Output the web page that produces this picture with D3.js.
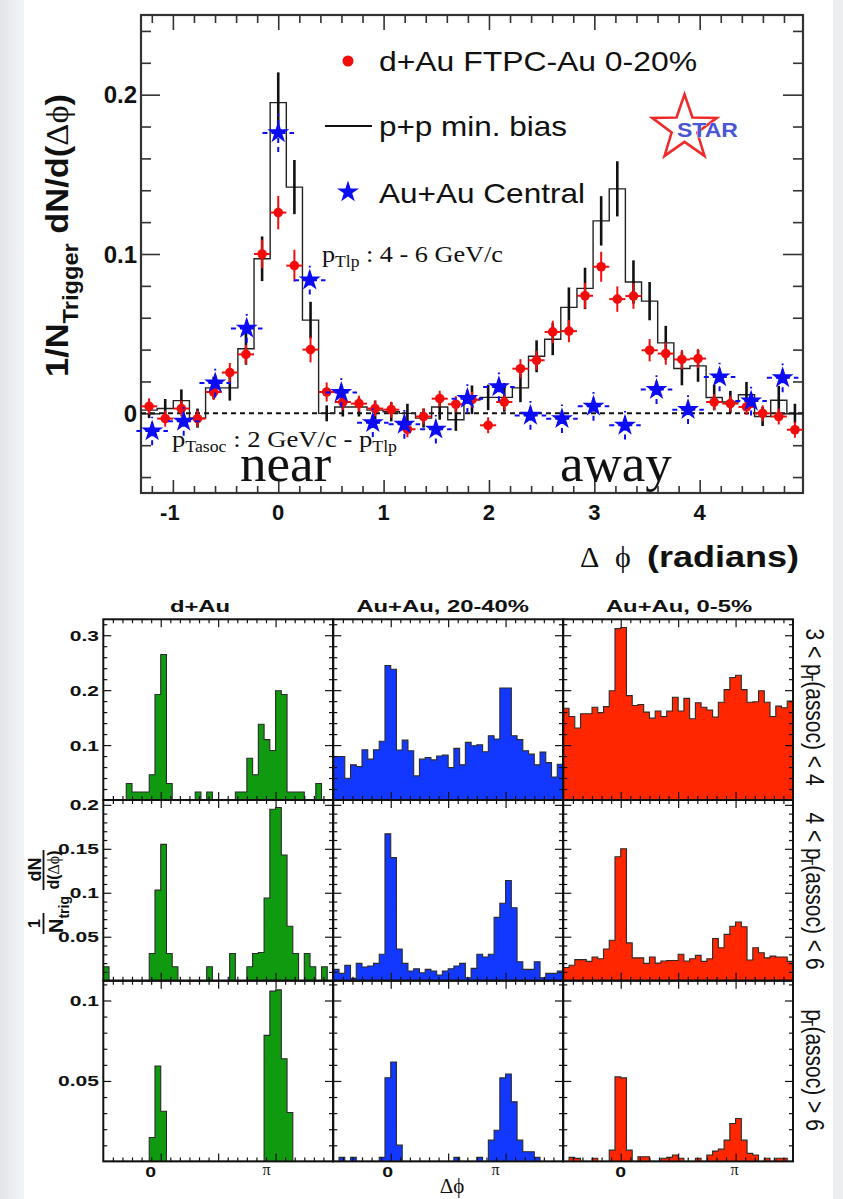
<!DOCTYPE html>
<html>
<head>
<meta charset="utf-8">
<script src="https://cdn.jsdelivr.net/npm/d3@7/dist/d3.min.js"></script>
<style>
  html, body { margin: 0; padding: 0; background: #fff; }
  svg { display: block; }
</style>
</head>
<body>
<svg id="chart" width="843" height="1199"></svg>
<script>
// ================= Upper figure: azimuthal correlation, pT(trig) 4-6 GeV/c =================
// p+p and d+Au: 41 bins over 2π, bin 8 centred on Δφ = 0
const ppYield = [0.002, 0.003, 0.008, -0.003, 0.016, 0.016, 0.0405, 0.097, 0.195, 0.142,
                 0.0585, 0.000, 0.004, 0.004, 0.002, 0.001, 0.000, -0.003, 0.004, -0.004,
                 0.0085, 0.010, 0.010, 0.016, 0.0358, 0.0465, 0.0665, 0.0784, 0.1208, 0.1409,
                 0.0824, 0.0704, 0.0442, 0.0281, 0.0298, 0.0099, 0.0071, 0.0117, -0.002, 0.0082,
                 0.000];
const ppErr = [0.005, 0.006, 0.007, 0.006, 0.007, 0.008, 0.010, 0.014, 0.019, 0.017,
               0.0115, 0.005, 0.006, 0.006, 0.006, 0.006, 0.006, 0.006, 0.008, 0.007,
               0.009, 0.008, 0.009, 0.009, 0.010, 0.010, 0.0125, 0.013, 0.0155, 0.0173,
               0.0136, 0.012, 0.0107, 0.0105, 0.010, 0.008, 0.007, 0.008, 0.006, 0.009,
               0.006];
const dAuYield = [0.0044, -0.0033, 0.003, -0.0033, 0.0134, 0.0256, 0.037, 0.100, 0.126, 0.0927,
                  0.040, 0.0134, 0.0071, 0.0061, 0.003, 0.0023, -0.010, -0.002, 0.0092, 0.0057,
                  0.0086, -0.0075, 0.0071, 0.028, 0.0333, 0.0511, 0.0516, 0.0738, 0.092, 0.0717,
                  0.0736, 0.0396, 0.0375, 0.0338, 0.0344, 0.0071, 0.0061, 0.004, 0.000, -0.002,
                  -0.0103];
const dAuErr = [0.005, 0.005, 0.005, 0.005, 0.005, 0.006, 0.006, 0.009, 0.0105, 0.010,
                0.008, 0.006, 0.005, 0.005, 0.005, 0.005, 0.005, 0.005, 0.005, 0.005,
                0.005, 0.005, 0.005, 0.006, 0.006, 0.007, 0.007, 0.008, 0.0094, 0.008,
                0.008, 0.007, 0.007, 0.006, 0.006, 0.005, 0.005, 0.005, 0.005, 0.005,
                0.005];
// Au+Au central: 21 bins over 2π, bin 4 centred on Δφ = 0
const auAuYield = [-0.0111, -0.005, 0.019, 0.0533, 0.176, 0.0836, 0.013, -0.0059, -0.0069, -0.010,
                   0.0092, 0.0166, -0.0013, -0.0034, 0.0044, -0.0075, 0.0149, 0.0023, 0.0228, 0.0077,
                   0.0223];
const auAuErr = [0.009, 0.009, 0.009, 0.009, 0.012, 0.009, 0.009, 0.009, 0.009, 0.009,
                 0.009, 0.009, 0.009, 0.009, 0.009, 0.009, 0.009, 0.009, 0.009, 0.009,
                 0.009];

const topXTicks = [-1, 0, 1, 2, 3, 4];
const topYTicks = [0, 0.1, 0.2];
const legendLabels = ["d+Au FTPC-Au 0-20%", "p+p min. bias", "Au+Au Central"];

// ================= Lower figure: 3 x 3 grid of Δφ distributions =================
const columnTitles = ["d+Au", "Au+Au, 20-40%", "Au+Au, 0-5%"];
const rowTitles = [
  { pre: "3 < p", sub: "T", post: "(assoc) < 4" },
  { pre: "4 < p", sub: "T", post: "(assoc) < 6" },
  { pre: "p", sub: "T", post: "(assoc) > 6" }
];
const gridYTicks = [[0.1, 0.2, 0.3], [0.05, 0.1, 0.15, 0.2], [0.05, 0.1]];
const gridYMax = [0.329, 0.2055, 0.1123];
const gridYMinorStep = [0.02, 0.01, 0.01];

// 40 bins of π/20 from -π/2 to 3π/2
const dAu_pt3to4 = [0, 0, 0, 0, 0.030, 0.0146, 0.0146, 0.0146, 0.046, 0.192,
                    0.265, 0.030, 0, 0, 0, 0, 0.0146, 0, 0.0146, 0,
                    0, 0, 0, 0.0146, 0.0146, 0.076, 0.046, 0.138, 0.110, 0.090,
                    0.199, 0.192, 0.0146, 0.0146, 0.0146, 0, 0, 0.030, 0, 0];
const auAu2040_pt3to4 = [0.0793, 0.0793, 0.0396, 0.064, 0.061, 0.0915, 0.0744, 0.0915, 0.107, 0.245,
                         0.238, 0.091, 0.109, 0.0896, 0.0439, 0.0744, 0.0774, 0.073, 0.080, 0.0817,
                         0.059, 0.094, 0.064, 0.105, 0.0988, 0.1006, 0.0878, 0.117, 0.111, 0.204,
                         0.204, 0.117, 0.110, 0.0896, 0.0835, 0.064, 0.0872, 0.068, 0.042, 0.065];
const auAu05_pt3to4 = [0.167, 0.152, 0.131, 0.157, 0.157, 0.169, 0.159, 0.170, 0.199, 0.312,
                       0.314, 0.190, 0.172, 0.174, 0.160, 0.149, 0.162, 0.152, 0.162, 0.187,
                       0.162, 0.185, 0.148, 0.177, 0.169, 0.164, 0.151, 0.178, 0.201, 0.223,
                       0.227, 0.201, 0.178, 0.179, 0.199, 0.178, 0.152, 0.171, 0.168, 0.180];
const dAu_pt4to6 = [0.0159, 0, 0, 0, 0, 0, 0, 0, 0.031, 0.103,
                    0.155, 0.031, 0.0159, 0, 0, 0, 0, 0, 0.0159, 0,
                    0, 0, 0.031, 0, 0, 0.0159, 0.031, 0.032, 0.094, 0.195,
                    0.197, 0.143, 0.062, 0.031, 0, 0.031, 0.0159, 0, 0.0159, 0];
const auAu2040_pt4to6 = [0.0129, 0.0083, 0.0174, 0.0027, 0.0197, 0.0155, 0.0167, 0.0197, 0.030, 0.167,
                         0.140, 0.036, 0.0197, 0.011, 0.0136, 0.0091, 0.0129, 0.011, 0.0064, 0.011,
                         0.0136, 0.0167, 0.0197, 0.0034, 0.014, 0.030, 0.027, 0.030, 0.072, 0.088,
                         0.114, 0.083, 0.0216, 0.0129, 0.0129, 0.0216, 0.0034, 0.0083, 0.0083, 0.011];
const auAu05_pt4to6 = [0.015, 0.0175, 0.024, 0.024, 0.022, 0.027, 0.025, 0.036, 0.046, 0.141,
                       0.150, 0.043, 0.026, 0.026, 0.0197, 0.027, 0.020, 0.0224, 0.023, 0.023,
                       0.030, 0.0224, 0.025, 0.0288, 0.022, 0.025, 0.048, 0.0375, 0.0527, 0.062,
                       0.0667, 0.0614, 0.0235, 0.0375, 0.0318, 0.026, 0.028, 0.027, 0.027, 0.022];
const dAu_pt6up = [0, 0, 0, 0, 0, 0, 0, 0, 0.0149, 0.0593,
                   0.0312, 0, 0, 0, 0, 0, 0, 0, 0, 0,
                   0, 0, 0, 0, 0, 0, 0, 0, 0.0783, 0.1058,
                   0.1066, 0.0638, 0.0304, 0, 0, 0, 0, 0, 0, 0];
const auAu2040_pt6up = [0, 0.0025, 0, 0.0025, 0, 0, 0, 0, 0.0025, 0.052,
                        0.0618, 0.0101, 0, 0, 0, 0, 0, 0, 0, 0,
                        0, 0.0025, 0, 0, 0, 0.0025, 0, 0.0132, 0.0194, 0.0519,
                        0.0543, 0.037, 0.0132, 0.006, 0.006, 0.0025, 0, 0, 0, 0];
const auAu05_pt6up = [0, 0.0025, 0.0019, 0, 0, 0.002, 0, 0, 0.007, 0.0525,
                      0.0519, 0.007, 0, 0.0029, 0.0029, 0, 0, 0.002, 0.0025, 0.004,
                      0.002, 0, 0, 0.002, 0, 0.004, 0.0064, 0.0076, 0.0132, 0.0236,
                      0.0267, 0.0132, 0.005, 0.004, 0, 0.002, 0, 0.002, 0.002, 0];

const gridData = [
  [dAu_pt3to4, auAu2040_pt3to4, auAu05_pt3to4],
  [dAu_pt4to6, auAu2040_pt4to6, auAu05_pt4to6],
  [dAu_pt6up, auAu2040_pt6up, auAu05_pt6up]
];
const gridColors = ["#109a10", "#1238ff", "#ff2600"];

// ---------------------------------------------------------------------------------
const svg = d3.select("#chart");
const SANS = "'Liberation Sans', Arial, Helvetica, sans-serif";
const SERIF = "'Liberation Serif', 'DejaVu Serif', 'Times New Roman', serif";

function stretch(sel, f) {
  sel.each(function () {
    const w = this.getComputedTextLength();
    d3.select(this).attr("textLength", w * f).attr("lengthAdjust", "spacingAndGlyphs");
  });
  return sel;
}
function fitTo(sel, len) {
  return sel.attr("textLength", len).attr("lengthAdjust", "spacingAndGlyphs");
}

// page backdrop with pale side margins
const defs = svg.append("defs");
const edge = defs.append("linearGradient").attr("id", "edgeL").attr("x1", 0).attr("x2", 1);
edge.append("stop").attr("offset", 0).attr("stop-color", "#e2e5e8");
edge.append("stop").attr("offset", 1).attr("stop-color", "#f3f5f7");
svg.append("rect").attr("width", 843).attr("height", 1199).attr("fill", "#fff");
svg.append("rect").attr("x", 0).attr("y", 0).attr("width", 24).attr("height", 1199).attr("fill", "url(#edgeL)");
svg.append("rect").attr("x", 833).attr("y", 0).attr("width", 10).attr("height", 1199).attr("fill", "#eceeef");

// ================= upper plot =================
const W41 = 2 * Math.PI / 41, W21 = 2 * Math.PI / 21;
const T = { x0: 141, x1: 803, y0: 15, y1: 493 };
const xT = d3.scaleLinear().domain([-8.5 * W41, 32.5 * W41]).range([T.x0, T.x1]);
const yT = d3.scaleLinear().domain([-0.05, 0.25]).range([T.y1, T.y0]);
const fineCentre = j => (j - 8) * W41;
const coarseCentre = k => (k - 4) * W21;

const upper = svg.append("g");

// frame ticks (inward on all four sides)
function ticks(g, axis, transform, vals, size, colour, width) {
  g.append("g").attr("transform", transform)
    .call(axis.tickValues(vals).tickSize(size).tickFormat(""))
    .call(s => s.select(".domain").remove())
    .call(s => s.selectAll("line").attr("stroke", colour).attr("stroke-width", width));
}
const xMinorT = d3.range(-6, 25).map(i => i * 0.2).filter(v => Math.abs(v - Math.round(v)) > 1e-6);
const yMinorT = d3.range(-2, 13).filter(i => i % 5 !== 0).map(i => i * 0.02);
ticks(upper, d3.axisBottom(xT), `translate(0,${T.y1})`, topXTicks, -13, "#333", 1.6);
ticks(upper, d3.axisBottom(xT), `translate(0,${T.y1})`, xMinorT, -7, "#333", 1.6);
ticks(upper, d3.axisTop(xT), `translate(0,${T.y0})`, topXTicks, -15, "#333", 1.6);
ticks(upper, d3.axisTop(xT), `translate(0,${T.y0})`, xMinorT, -8, "#333", 1.6);
ticks(upper, d3.axisLeft(yT), `translate(${T.x0},0)`, topYTicks, -19, "#333", 1.6);
ticks(upper, d3.axisLeft(yT), `translate(${T.x0},0)`, yMinorT, -10, "#333", 1.6);
ticks(upper, d3.axisRight(yT), `translate(${T.x1},0)`, topYTicks, -20, "#333", 1.6);
ticks(upper, d3.axisRight(yT), `translate(${T.x1},0)`, yMinorT, -10, "#333", 1.6);

upper.append("rect").attr("x", T.x0).attr("y", T.y0).attr("width", T.x1 - T.x0).attr("height", T.y1 - T.y0)
  .attr("fill", "none").attr("stroke", "#333").attr("stroke-width", 2.2);

// tick labels
upper.selectAll("text.ylab").data(topYTicks).join("text").attr("class", "ylab")
  .attr("x", 137).attr("y", d => yT(d) + 8.5).attr("text-anchor", "end")
  .attr("font-family", SANS).attr("font-weight", "bold").attr("font-size", 24).attr("fill", "#111")
  .text(d => d === 0 ? "0" : d3.format(".1f")(d));
upper.selectAll("text.xlab").data(topXTicks).join("text").attr("class", "xlab")
  .attr("x", d => xT(d) - (d < 0 ? 3 : 0)).attr("y", 520).attr("text-anchor", "middle")
  .attr("font-family", SANS).attr("font-weight", "bold").attr("font-size", 22).attr("fill", "#111")
  .text(d => d < 0 ? "-" + Math.abs(d) : String(d));

// zero line
upper.append("line").attr("x1", T.x0).attr("x2", T.x1).attr("y1", yT(0)).attr("y2", yT(0))
  .attr("stroke", "#111").attr("stroke-width", 2).attr("stroke-dasharray", "5,4");

// p+p histogram (step outline) and its errors
const ppSteps = ppYield.flatMap((v, j) => [[fineCentre(j) - W41 / 2, v], [fineCentre(j) + W41 / 2, v]]);
upper.append("path")
  .attr("d", d3.line().x(d => xT(d[0])).y(d => yT(d[1]))(ppSteps))
  .attr("fill", "none").attr("stroke", "#222").attr("stroke-width", 1.4);
upper.append("g").selectAll("line").data(ppYield).join("line")
  .attr("x1", (v, j) => xT(fineCentre(j))).attr("x2", (v, j) => xT(fineCentre(j)))
  .attr("y1", (v, j) => yT(v - ppErr[j])).attr("y2", (v, j) => yT(v + ppErr[j]))
  .attr("stroke", "#111").attr("stroke-width", 2.6);

// d+Au points
const RED = "#f20d0d", BLUE = "#0b0bf5";
const gRed = upper.append("g");
gRed.selectAll("line.h").data(dAuYield).join("line").attr("class", "h")
  .attr("x1", (v, j) => xT(fineCentre(j) - W41 / 2)).attr("x2", (v, j) => xT(fineCentre(j) + W41 / 2))
  .attr("y1", v => yT(v)).attr("y2", v => yT(v))
  .attr("stroke", RED).attr("stroke-width", 2);
gRed.selectAll("line.v").data(dAuYield).join("line").attr("class", "v")
  .attr("x1", (v, j) => xT(fineCentre(j))).attr("x2", (v, j) => xT(fineCentre(j)))
  .attr("y1", (v, j) => yT(v - dAuErr[j])).attr("y2", (v, j) => yT(v + dAuErr[j]))
  .attr("stroke", RED).attr("stroke-width", 2);
gRed.selectAll("circle").data(dAuYield).join("circle")
  .attr("cx", (v, j) => xT(fineCentre(j))).attr("cy", v => yT(v)).attr("r", 4.8)
  .attr("fill", RED);

// Au+Au central stars
const gBlue = upper.append("g");
gBlue.selectAll("line.h").data(auAuYield).join("line").attr("class", "h")
  .attr("x1", (v, k) => xT(coarseCentre(k) - W21 / 2)).attr("x2", (v, k) => xT(coarseCentre(k) + W21 / 2))
  .attr("y1", v => yT(v)).attr("y2", v => yT(v))
  .attr("stroke", BLUE).attr("stroke-width", 2).attr("stroke-dasharray", "5,4");
gBlue.selectAll("line.v").data(auAuYield).join("line").attr("class", "v")
  .attr("x1", (v, k) => xT(coarseCentre(k))).attr("x2", (v, k) => xT(coarseCentre(k)))
  .attr("y1", (v, k) => yT(v - auAuErr[k])).attr("y2", (v, k) => yT(v + auAuErr[k]))
  .attr("stroke", BLUE).attr("stroke-width", 2).attr("stroke-dasharray", "5,4");
const starPath = d3.symbol().type(d3.symbolStar).size(150)();
gBlue.selectAll("path").data(auAuYield).join("path")
  .attr("transform", (v, k) => `translate(${xT(coarseCentre(k))},${yT(v)})`)
  .attr("d", starPath).attr("fill", BLUE);

// legend
const leg = upper.append("g").attr("font-family", SANS).attr("font-size", 28).attr("fill", "#111");
leg.append("circle").attr("cx", 348).attr("cy", 61).attr("r", 5.5).attr("fill", RED);
leg.append("line").attr("x1", 325).attr("x2", 372).attr("y1", 126).attr("y2", 126).attr("stroke", "#111").attr("stroke-width", 2.2);
leg.append("path").attr("transform", "translate(348,192)").attr("d", starPath).attr("fill", BLUE);
const legY = [71, 136, 203], legLen = [318, 188, 206];
legendLabels.forEach((s, i) => fitTo(leg.append("text").attr("x", 379).attr("y", legY[i]).text(s), legLen[i]));

// STAR logo
const starR = 34, starr = 13.5, scx = 684.5, scy = 128.4;
const starPts = d3.range(10).map(i => {
  const a = -Math.PI / 2 + i * Math.PI / 5, r = i % 2 ? starr : starR;
  return [scx + r * Math.cos(a), scy + r * Math.sin(a)];
});
upper.append("polygon").attr("points", starPts.map(p => p.join(",")).join(" "))
  .attr("fill", "none").attr("stroke", "#ee2b2b").attr("stroke-width", 2.6).attr("stroke-linejoin", "miter");
fitTo(upper.append("text").attr("x", 677).attr("y", 137).attr("font-family", SANS).attr("font-weight", "bold")
  .attr("font-size", 21).attr("fill", "#4b55d6").attr("stroke", "#fff").attr("stroke-width", 0.6)
  .attr("paint-order", "stroke").text("STAR"), 61);

// kinematic annotations
function annot(x, y, parts, len) {
  const t = upper.append("text").attr("x", x).attr("y", y).attr("font-family", SERIF).attr("font-size", 24).attr("fill", "#111");
  parts.forEach(p => {
    const ts = t.append("tspan").text(p.s);
    if (p.sub) ts.attr("font-size", 16).attr("dy", 5);
    if (p.back) ts.attr("dy", -5);
  });
  fitTo(t, len);
}
annot(322, 262, [{ s: "p" }, { s: "Tlp", sub: true }, { s: " : 4 - 6 GeV/c", back: true }], 181);
annot(172, 447, [{ s: "p" }, { s: "Tasoc", sub: true }, { s: " : 2 GeV/c - p", back: true }, { s: "Tlp", sub: true }], 225);
upper.append("text").attr("x", 240).attr("y", 481).attr("font-family", SERIF).attr("font-size", 53).attr("fill", "#111").text("near");
upper.append("text").attr("x", 560).attr("y", 481).attr("font-family", SERIF).attr("font-size", 53).attr("fill", "#111").text("away");

// axis titles
const yt = upper.append("text").attr("transform", "translate(68,377) rotate(-90)")
  .attr("font-family", SANS).attr("font-weight", "bold").attr("font-size", 32).attr("fill", "#111");
yt.append("tspan").text("1/N");
yt.append("tspan").attr("font-size", 22).attr("dy", 10).text("Trigger");
yt.append("tspan").attr("dy", -10).text(" dN/d(");
yt.append("tspan").attr("font-family", SERIF).attr("font-weight", "normal").text("Δϕ");
yt.append("tspan").text(")");
fitTo(yt, 283);

upper.append("text").attr("x", 580).attr("y", 567).attr("font-family", SERIF).attr("font-size", 30).attr("fill", "#111").text("Δ");
upper.append("text").attr("x", 615).attr("y", 567).attr("font-family", SERIF).attr("font-size", 30).attr("fill", "#111").text("ϕ");
fitTo(upper.append("text").attr("x", 647).attr("y", 567).attr("font-family", SANS).attr("font-weight", "bold")
  .attr("font-size", 29).attr("fill", "#111").text("(radians)"), 152);

// ================= lower grid =================
const G = { x0: [103.3, 333.3, 563.3], w: 229.7, y0: [619.3, 800, 980.7], h: 180.7 };
const BIN40 = Math.PI / 20;
const lower = svg.append("g");
const xMajorG = [0, Math.PI / 2, Math.PI];
const xMinorG = d3.range(-5, 18).filter(i => i % 6 !== 0).map(i => i * Math.PI / 12);

gridData.forEach((rowSets, r) => {
  const ys = d3.scaleLinear().domain([0, gridYMax[r]]).range([G.y0[r] + G.h, G.y0[r]]);
  const nMinor = Math.floor(gridYMax[r] / gridYMinorStep[r] + 1e-6);
  const yMinor = d3.range(1, nMinor + 1).map(i => +(i * gridYMinorStep[r]).toFixed(4))
    .filter(v => !gridYTicks[r].some(t => Math.abs(t - v) < 1e-6));
  rowSets.forEach((vals, c) => {
    const xs = d3.scaleLinear().domain([-Math.PI / 2, 1.5 * Math.PI]).range([G.x0[c], G.x0[c] + G.w]);
    const g = lower.append("g");
    const pts = vals.flatMap((v, i) => [[-Math.PI / 2 + i * BIN40, v], [-Math.PI / 2 + (i + 1) * BIN40, v]]);
    g.append("path")
      .attr("d", d3.area().x(d => xs(d[0])).y0(ys(0)).y1(d => ys(d[1]))(pts))
      .attr("fill", gridColors[c]);
    g.append("path")
      .attr("d", d3.line().x(d => xs(d[0])).y(d => ys(d[1]))(pts))
      .attr("fill", "none").attr("stroke", "#2b2b2b").attr("stroke-width", 1.1);
    ticks(g, d3.axisBottom(xs), `translate(0,${G.y0[r] + G.h})`, xMajorG, -8, "#111", 1.2);
    ticks(g, d3.axisBottom(xs), `translate(0,${G.y0[r] + G.h})`, xMinorG, -4, "#111", 1.2);
    ticks(g, d3.axisTop(xs), `translate(0,${G.y0[r]})`, xMajorG, -8, "#111", 1.2);
    ticks(g, d3.axisTop(xs), `translate(0,${G.y0[r]})`, xMinorG, -4, "#111", 1.2);
    ticks(g, d3.axisLeft(ys), `translate(${G.x0[c]},0)`, gridYTicks[r], -8, "#111", 1.2);
    ticks(g, d3.axisLeft(ys), `translate(${G.x0[c]},0)`, yMinor, -4, "#111", 1.2);
    ticks(g, d3.axisRight(ys), `translate(${G.x0[c] + G.w},0)`, gridYTicks[r], -8, "#111", 1.2);
    ticks(g, d3.axisRight(ys), `translate(${G.x0[c] + G.w},0)`, yMinor, -4, "#111", 1.2);
    g.append("rect").attr("x", G.x0[c]).attr("y", G.y0[r]).attr("width", G.w).attr("height", G.h)
      .attr("fill", "none").attr("stroke", "#111").attr("stroke-width", 2);

    if (c === 0) {
      g.selectAll("text.yl").data(gridYTicks[r]).join("text").attr("class", "yl")
        .attr("x", 99).attr("y", d => ys(d) + 5.5).attr("text-anchor", "end")
        .attr("font-family", SANS).attr("font-weight", "bold").attr("font-size", 15).attr("fill", "#111")
        .text(d => String(d))
        .call(s => stretch(s, 1.4));
    }
    if (r === 2) {
      const shift = [[-10, -9], [-3, -10], [0, -1]][c];
      stretch(g.append("text").attr("x", xs(0) + shift[0]).attr("y", 1177).attr("text-anchor", "middle")
        .attr("font-family", SANS).attr("font-weight", "bold").attr("font-size", 15).attr("fill", "#111").text("0"), 1.3);
      g.append("text").attr("x", xs(Math.PI) + shift[1]).attr("y", 1175).attr("text-anchor", "middle")
        .attr("font-family", SERIF).attr("font-size", 16).attr("fill", "#111").text("π");
    }
  });
});

// column titles
const colTitleX = [200, 442.7, 679];
columnTitles.forEach((s, c) => {
  stretch(lower.append("text").attr("x", colTitleX[c]).attr("y", 611.5).attr("text-anchor", "middle")
    .attr("font-family", SANS).attr("font-weight", "bold").attr("font-size", 17).attr("fill", "#111").text(s), 1.4);
});

// row titles on the right, reading downwards
const rowTitleY = [707, 891, 1070];
rowTitles.forEach((rt, r) => {
  const t = lower.append("text")
    .attr("transform", `translate(806,${rowTitleY[r]}) rotate(90) scale(1,1.2)`)
    .attr("text-anchor", "middle").attr("font-family", SANS).attr("font-size", 21).attr("fill", "#111");
  t.append("tspan").text(rt.pre);
  t.append("tspan").attr("font-size", 14).attr("dy", 4).attr("dx", -3).text(rt.sub);
  t.append("tspan").attr("dy", -4).text(rt.post);
});

// left axis title: 1/N_trig dN/d(Δφ)
const yl = lower.append("g").attr("transform", "translate(43,893) rotate(-90)")
  .attr("font-family", SANS).attr("font-weight", "bold").attr("fill", "#111");
yl.append("text").attr("x", -30.5).attr("y", -3).attr("text-anchor", "middle").attr("font-size", 16).text("1");
yl.append("line").attr("x1", -41).attr("x2", -20).attr("y1", 0.5).attr("y2", 0.5).attr("stroke", "#111").attr("stroke-width", 1.8);
const nt = yl.append("text").attr("x", -40).attr("y", 20).attr("font-size", 20);
nt.append("tspan").text("N");
nt.append("tspan").attr("font-size", 14).attr("dy", 6).text("trig");
yl.append("text").attr("x", 23.5).attr("y", -2).attr("text-anchor", "middle").attr("font-size", 18).text("dN");
yl.append("line").attr("x1", 3).attr("x2", 43).attr("y1", 0.5).attr("y2", 0.5).attr("stroke", "#111").attr("stroke-width", 1.8);
const dd = yl.append("text").attr("x", 23).attr("y", 16).attr("text-anchor", "middle").attr("font-size", 16);
dd.append("tspan").text("d(");
dd.append("tspan").attr("font-family", SERIF).attr("font-weight", "normal").text("Δϕ");
dd.append("tspan").text(")");

lower.append("text").attr("x", 452).attr("y", 1193).attr("text-anchor", "middle")
  .attr("font-family", SERIF).attr("font-size", 21).attr("fill", "#111").text("Δϕ");
</script>
</body>
</html>
